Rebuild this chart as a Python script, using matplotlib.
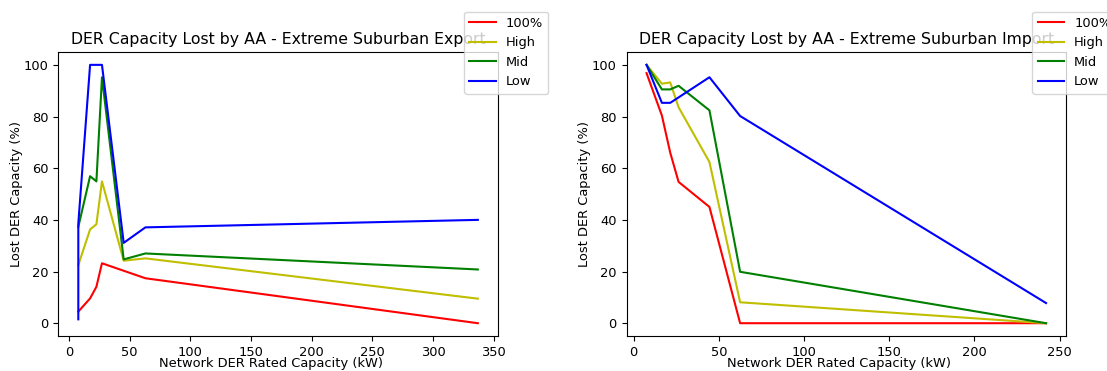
import matplotlib
matplotlib.use("Agg")
import matplotlib.pyplot as plt

# Export scenario (left panel)
export_kw = [7.7, 7.7, 17.4, 22.6, 27.2, 45.1, 63.0, 337.0]
export_100 = [4.5, 4.5, 9.6, 14.1, 23.2, 20.3, 17.4, 0.0]
export_high = [22.5, 22.5, 36.3, 38.3, 54.9, 24.2, 25.1, 9.5]
export_mid = [37.3, 37.3, 56.9, 54.9, 95.2, 24.7, 27.0, 20.8]
export_low = [1.5, 38.6, 100.0, 100.0, 100.0, 31.1, 37.1, 40.0]

# Import scenario (right panel)
import_kw = [7.6, 16.6, 21.5, 26.4, 44.5, 62.5, 242.0]
import_100 = [96.8, 80.4, 66.0, 54.7, 45.0, 0.0, 0.0]
import_high = [100.0, 92.7, 93.2, 83.6, 62.4, 8.1, 0.0]
import_mid = [100.0, 90.5, 90.5, 91.9, 82.4, 19.9, 0.0]
import_low = [100.0, 85.3, 85.3, 87.4, 95.2, 80.2, 7.8]

labels = ["100%", "High", "Mid", "Low"]
colors = ["r", "y", "g", "b"]

panels = [
    ("Export", export_kw, [export_100, export_high, export_mid, export_low]),
    ("Import", import_kw, [import_100, import_high, import_mid, import_low]),
]

plt.rcParams["font.size"] = 9.4
plt.rcParams["axes.titlesize"] = 11.3

fig = plt.figure(figsize=(11.07, 3.71), dpi=100)
lefts = [0.0527, 0.566]
width = 0.397

for left, (name, xs, series) in zip(lefts, panels):
    ax = fig.add_axes([left, 0.094, width, 0.766])
    for ys, lab, c in zip(series, labels, colors):
        ax.plot(xs, ys, color=c, label=lab)
    ax.set_title(f"DER Capacity Lost by AA - Extreme Suburban {name}")
    ax.set_xlabel("Network DER Rated Capacity (kW)")
    ax.set_ylabel("Lost DER Capacity (%)")
    ax.xaxis.set_label_coords(0.484, -0.072)
    ax.yaxis.set_label_coords(-0.08, 0.5)
    ax.legend(loc="upper right", bbox_to_anchor=(1.13, 1.165))

fig.savefig("out.png", dpi=100)
